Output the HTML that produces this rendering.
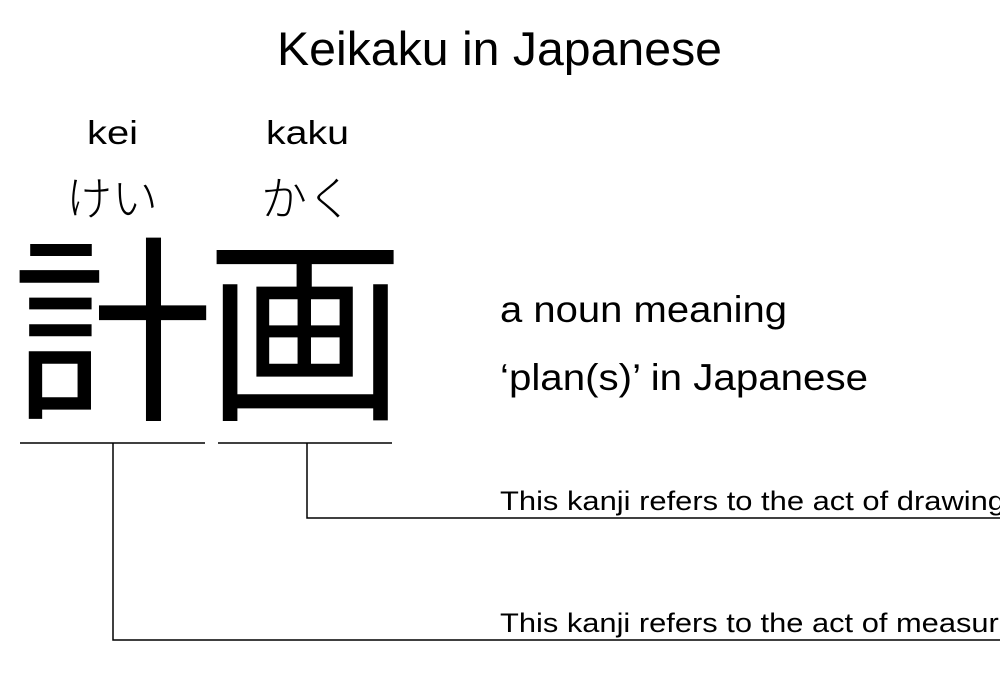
<!DOCTYPE html>
<html><head><meta charset="utf-8"><style>
html,body{margin:0;padding:0;background:#fff;width:1000px;height:700px;overflow:hidden}
svg{display:block}
</style></head><body>
<svg width="1000" height="700" viewBox="0 0 1000 700" xmlns="http://www.w3.org/2000/svg">
<g font-family="'Liberation Sans','Noto Sans CJK JP',sans-serif" fill="#000">
<text x="277" y="65" font-size="47" textLength="445" lengthAdjust="spacingAndGlyphs">Keikaku in Japanese</text>
<text x="87" y="144" font-size="33" textLength="51" lengthAdjust="spacingAndGlyphs">kei</text>
<text x="266" y="144" font-size="33" textLength="83" lengthAdjust="spacingAndGlyphs">kaku</text>
<text x="112" y="215" font-size="46" text-anchor="middle" font-family="'Noto Sans CJK JP',sans-serif" font-weight="300">けい</text>
<text x="307" y="215" font-size="46" text-anchor="middle" font-family="'Noto Sans CJK JP',sans-serif" font-weight="300">かく</text>
<text x="112" y="405" font-size="200" text-anchor="middle" font-family="'Noto Sans CJK JP',sans-serif" font-weight="400">計</text>
<text x="305" y="405" font-size="200" text-anchor="middle" font-family="'Noto Sans CJK JP',sans-serif" font-weight="400">画</text>
<text x="500" y="322" font-size="37" textLength="287" lengthAdjust="spacingAndGlyphs">a noun meaning</text>
<text x="500" y="390" font-size="37" textLength="368" lengthAdjust="spacingAndGlyphs">‘plan(s)’ in Japanese</text>
<text x="500" y="510" font-size="27" textLength="505" lengthAdjust="spacingAndGlyphs">This kanji refers to the act of drawing</text>
<text x="500" y="632" font-size="27" textLength="540" lengthAdjust="spacingAndGlyphs">This kanji refers to the act of measuring</text>
</g>
<g stroke="#000" stroke-width="1.5" fill="none">
<line x1="20" y1="443" x2="205" y2="443"/>
<line x1="218" y1="443" x2="392" y2="443"/>
<polyline points="307,443 307,518 1000,518"/>
<polyline points="113,443 113,640 1000,640"/>
</g>
</svg>
</body></html>
